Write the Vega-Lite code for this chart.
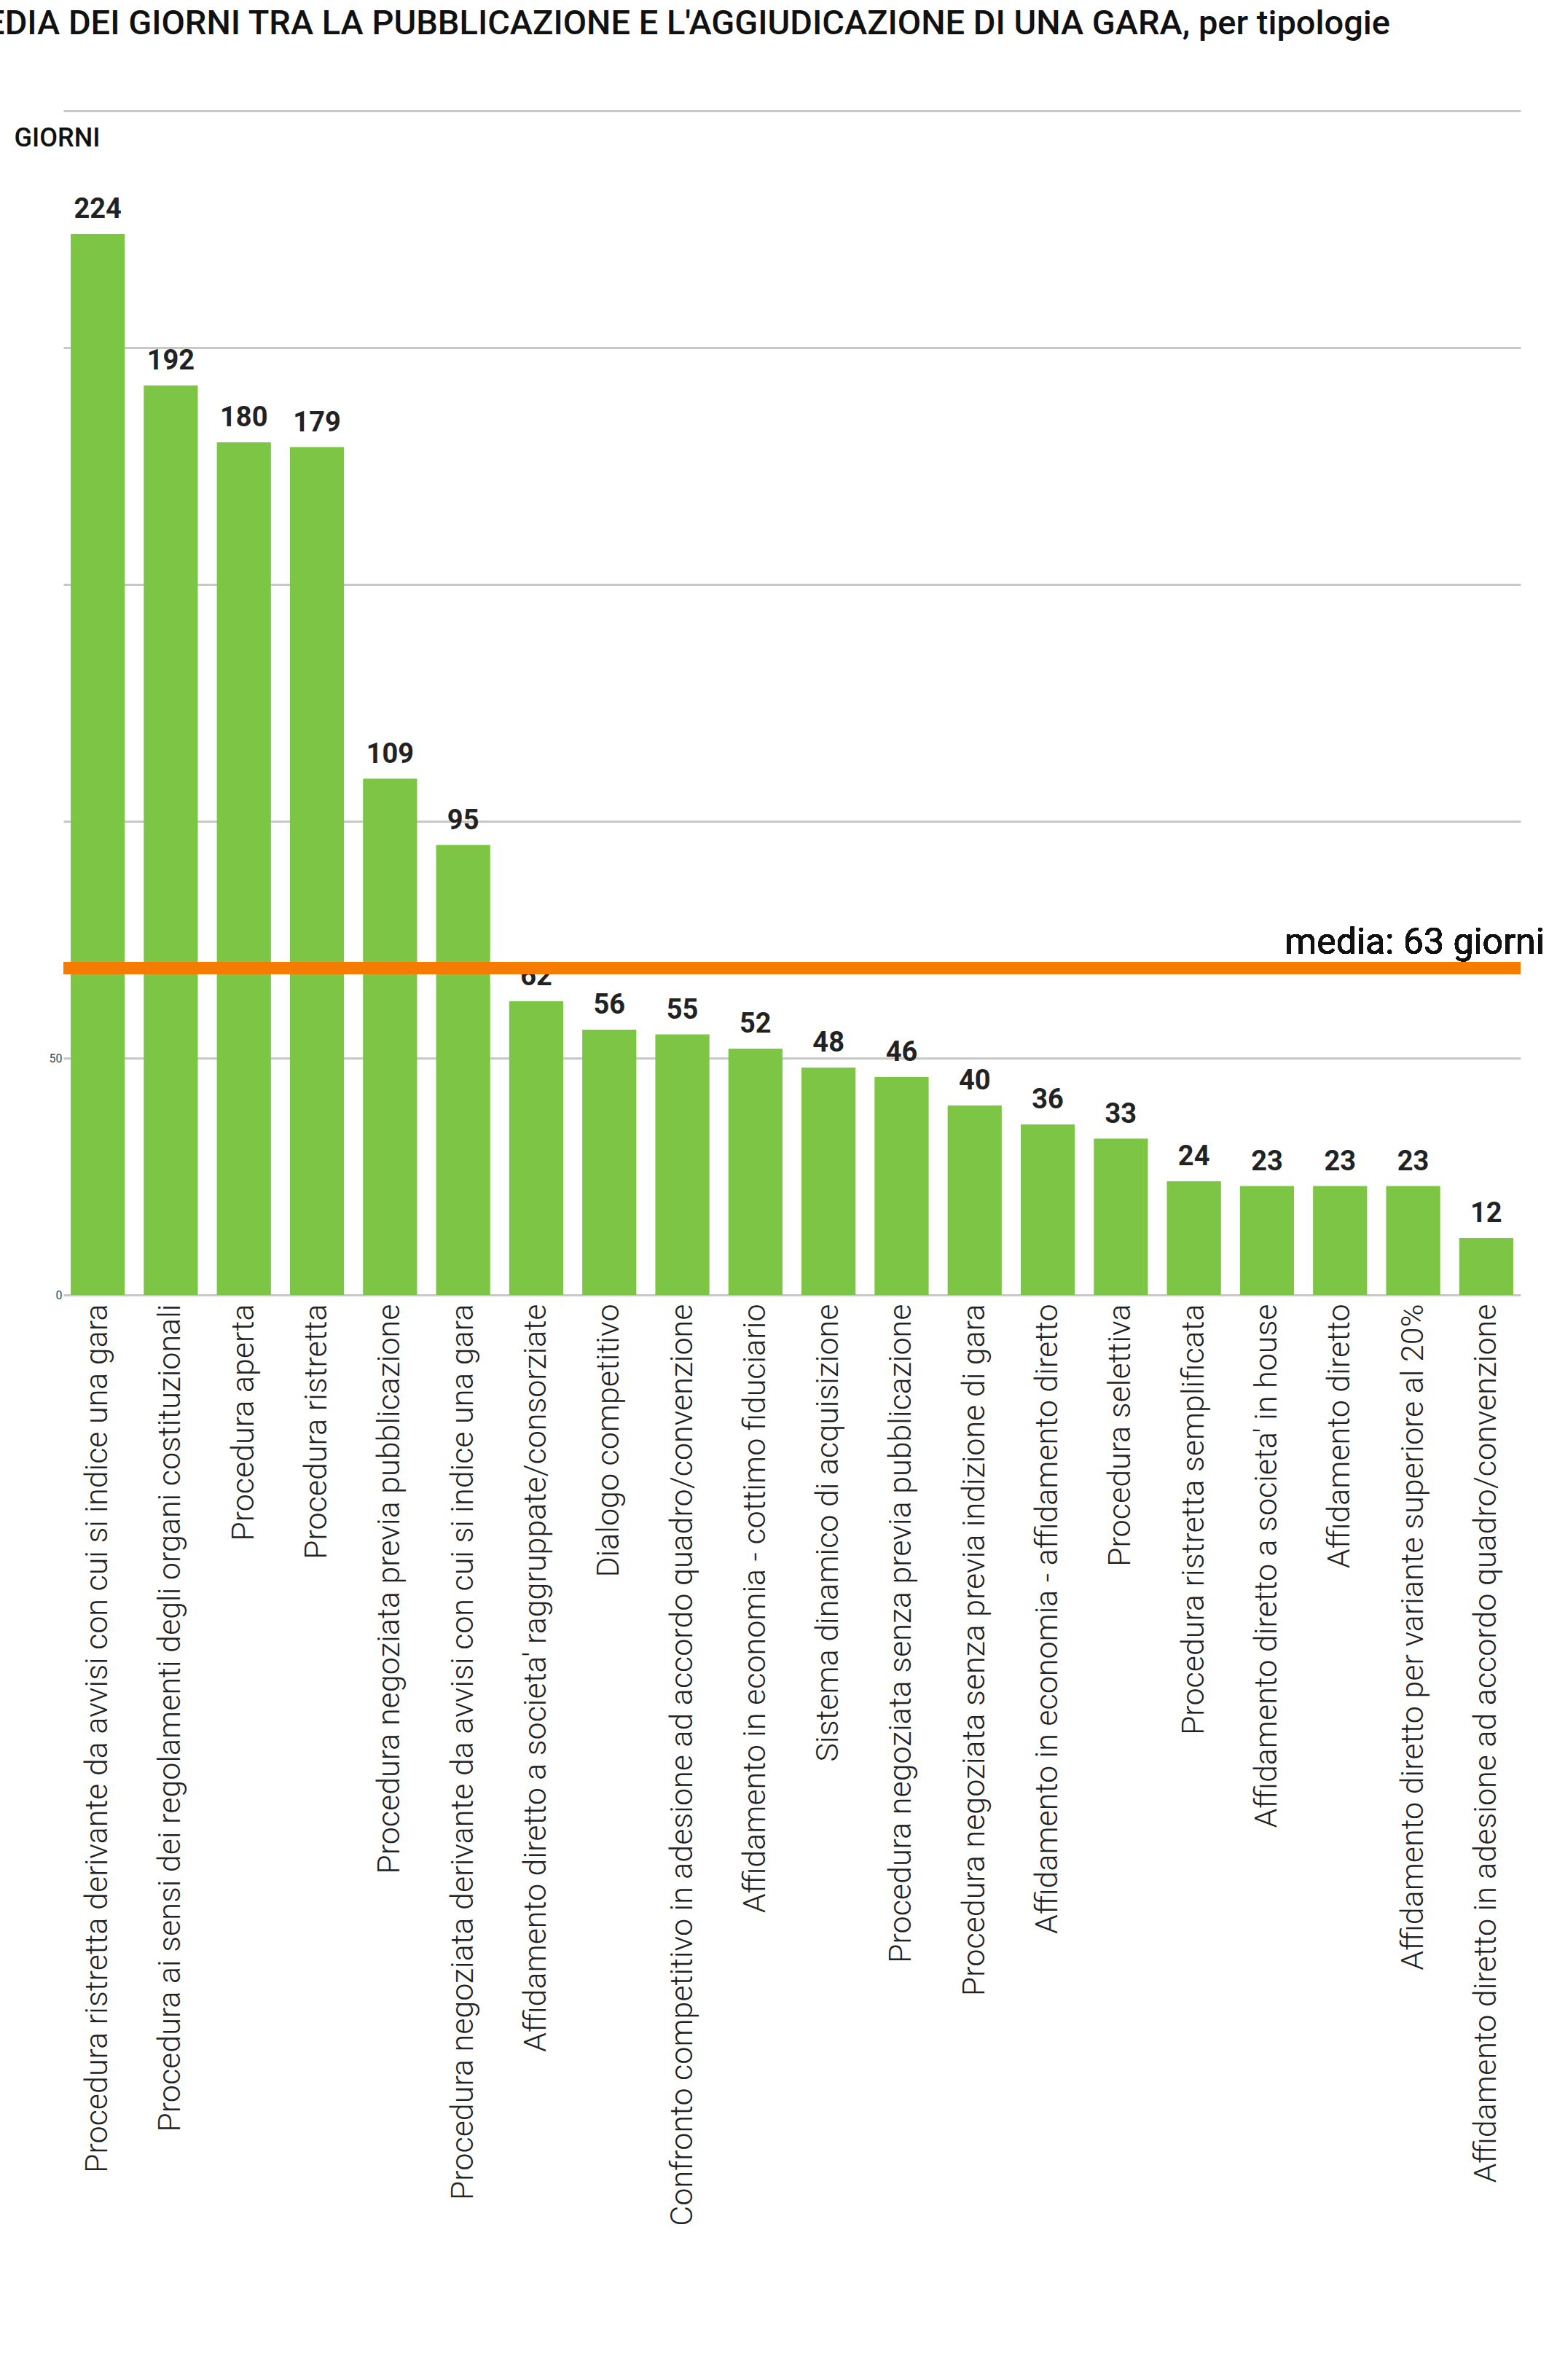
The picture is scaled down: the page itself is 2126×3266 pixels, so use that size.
{
  "$schema": "https://vega.github.io/schema/vega-lite/v6.json",
  "width": 2000,
  "height": 1625,
  "autosize": "none",
  "padding": {"left": 87, "top": 152, "right": 39, "bottom": 1480},
  "background": "white",
  "title": {
    "text": "MEDIA DEI GIORNI TRA LA PUBBLICAZIONE E L'AGGIUDICAZIONE DI UNA GARA, per tipologie",
    "anchor": "start",
    "font": "Roboto",
    "fontSize": 47,
    "fontWeight": 500,
    "color": "#111",
    "offset": 95,
    "dx": -80
  },
  "data": {"values": [
    {"tipo": "Procedura ristretta derivante da avvisi con cui si indice una gara", "giorni": 224},
    {"tipo": "Procedura ai sensi dei regolamenti degli organi costituzionali", "giorni": 192},
    {"tipo": "Procedura aperta", "giorni": 180},
    {"tipo": "Procedura ristretta", "giorni": 179},
    {"tipo": "Procedura negoziata previa pubblicazione", "giorni": 109},
    {"tipo": "Procedura negoziata derivante da avvisi con cui si indice una gara", "giorni": 95},
    {"tipo": "Affidamento diretto a societa' raggruppate/consorziate", "giorni": 62},
    {"tipo": "Dialogo competitivo", "giorni": 56},
    {"tipo": "Confronto competitivo in adesione ad accordo quadro/convenzione", "giorni": 55},
    {"tipo": "Affidamento in economia - cottimo fiduciario", "giorni": 52},
    {"tipo": "Sistema dinamico di acquisizione", "giorni": 48},
    {"tipo": "Procedura negoziata senza previa pubblicazione", "giorni": 46},
    {"tipo": "Procedura negoziata senza previa indizione di gara", "giorni": 40},
    {"tipo": "Affidamento in economia - affidamento diretto", "giorni": 36},
    {"tipo": "Procedura selettiva", "giorni": 33},
    {"tipo": "Procedura ristretta semplificata", "giorni": 24},
    {"tipo": "Affidamento diretto a societa' in house", "giorni": 23},
    {"tipo": "Affidamento diretto", "giorni": 23},
    {"tipo": "Affidamento diretto per variante superiore al 20%", "giorni": 23},
    {"tipo": "Affidamento diretto in adesione ad accordo quadro/convenzione", "giorni": 12}
  ]},
  "encoding": {
    "x": {
      "field": "tipo", "type": "nominal", "sort": null, "title": null,
      "scale": {"paddingInner": 0.26, "paddingOuter": 0.1},
      "axis": {"labelAngle": -90, "labelAlign": "right", "labelBaseline": "middle", "labelFont": "Roboto", "labelFontWeight": 300, "labelFontSize": 43, "labelColor": "#222", "labelLimit": 2000, "labelPadding": 12, "ticks": false, "domain": false}
    },
    "y": {
      "field": "giorni", "type": "quantitative", "title": "GIORNI",
      "scale": {"domain": [0, 250]},
      "axis": {"values": [0, 50, 100, 150, 200, 250], "labelExpr": "datum.value <= 50 ? datum.label : ''", "labelFontSize": 16, "labelColor": "#444", "labelFont": "Roboto", "ticks": false, "domain": false, "gridColor": "#c8c8c8", "gridWidth": 3, "titleAngle": 0, "titleAlign": "left", "titleBaseline": "top", "titleX": -68, "titleY": 20, "titleFont": "Roboto", "titleFontSize": 36, "titleFontWeight": 500, "titleColor": "#111"}
    }
  },
  "layer": [
    {"mark": {"type": "bar", "color": "#7DC544"}},
    {"mark": {"type": "text", "baseline": "bottom", "dy": -14, "font": "Roboto", "fontSize": 38, "fontWeight": "bold", "color": "#222"},
     "encoding": {"text": {"field": "giorni", "type": "quantitative"}}},
    {"mark": {"type": "rule", "color": "#F57C00", "strokeWidth": 16},
     "encoding": {"y": {"datum": 69}, "x": null}},
    {"mark": {"type": "text", "align": "right", "baseline": "bottom", "dx": 80, "dy": -10, "font": "Roboto", "fontSize": 50, "color": "#111"},
     "encoding": {"y": {"datum": 69}, "x": {"datum": "Affidamento diretto in adesione ad accordo quadro/convenzione"}, "text": {"value": "media: 63 giorni"}}}
  ],
  "config": {"view": {"stroke": null}}
}
